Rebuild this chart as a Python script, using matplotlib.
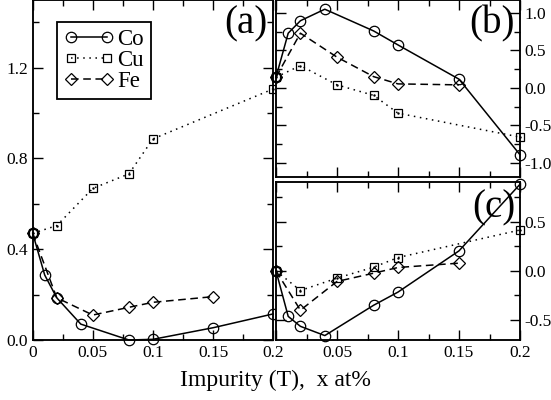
import matplotlib
matplotlib.use('Agg')
import matplotlib.pyplot as plt
from matplotlib.ticker import MultipleLocator

plt.rcParams['font.family'] = ['Liberation Serif', 'DejaVu Serif']
plt.rcParams['axes.unicode_minus'] = False

# panel (a)
a_co_x = [0, 0.01, 0.02, 0.04, 0.08, 0.1, 0.15, 0.2]
a_co_y = [0.47, 0.286, 0.186, 0.07, 0.0, 0.003, 0.054, 0.115]
a_cu_x = [0, 0.02, 0.05, 0.08, 0.1, 0.2]
a_cu_y = [0.47, 0.504, 0.668, 0.732, 0.886, 1.106]
a_fe_x = [0, 0.02, 0.05, 0.08, 0.1, 0.15]
a_fe_y = [0.47, 0.186, 0.11, 0.144, 0.166, 0.191]

# panel (b)
b_co_x = [0, 0.01, 0.02, 0.04, 0.08, 0.1, 0.15, 0.2]
b_co_y = [0.143, 0.73, 0.896, 1.05, 0.76, 0.573, 0.116, -0.893]
b_cu_x = [0, 0.02, 0.05, 0.08, 0.1, 0.2]
b_cu_y = [0.143, 0.297, 0.04, -0.10, -0.338, -0.657]
b_fe_x = [0, 0.02, 0.05, 0.08, 0.1, 0.15]
b_fe_y = [0.143, 0.73, 0.41, 0.15, 0.053, 0.04]

# panel (c)
c_co_x = [0, 0.01, 0.02, 0.04, 0.08, 0.1, 0.15, 0.2]
c_co_y = [0.0, -0.463, -0.564, -0.658, -0.35, -0.216, 0.203, 0.88]
c_cu_x = [0, 0.02, 0.05, 0.08, 0.1, 0.2]
c_cu_y = [0.0, -0.2, -0.074, 0.037, 0.135, 0.415]
c_fe_x = [0, 0.02, 0.05, 0.08, 0.1, 0.15]
c_fe_y = [0.0, -0.40, -0.108, -0.024, 0.034, 0.078]

x_labels = ['0', '0.05', '0.1', '0.15', '0.2']

fig = plt.figure(figsize=(5.51, 4.0), dpi=100)
ax_a = fig.add_axes([32.7 / 551, 1 - 340 / 400, 240.5 / 551, 340 / 400])
ax_b = fig.add_axes([276 / 551, 1 - 177 / 400, 244 / 551, 177 / 400])
ax_c = fig.add_axes([276 / 551, 1 - 340 / 400, 244 / 551, 158.5 / 400])


def draw(ax, cox, coy, cux, cuy, fex, fey):
    ax.plot(cox, coy, color='black', lw=1.1, ls='-', marker='o', ms=7.5,
            mfc='none', mec='black', mew=0.9, label='Co', clip_on=False)
    ax.plot(cux, cuy, color='black', lw=1.1, ls=(0, (1, 3)), marker='s',
            ms=6, mfc='none', mec='black', mew=0.9, label='Cu', clip_on=False)
    ax.plot(cux, cuy, ls='none', marker='.', ms=1.5, color='black',
            clip_on=False)
    ax.plot(fex, fey, color='black', lw=1.1, ls=(0, (5, 3)), marker='D',
            ms=6, mfc='none', mec='black', mew=0.9, label='Fe',
            clip_on=False)
    for s in ax.spines.values():
        s.set_linewidth(1.35)
    ax.tick_params(which='both', direction='in', top=True, right=True,
                   left=True, bottom=True, labelsize=12.5, width=1.0)
    ax.tick_params(which='major', length=7)
    ax.tick_params(which='minor', length=4)
    ax.set_xlim(0, 0.2)
    ax.xaxis.set_major_locator(MultipleLocator(0.05))
    ax.xaxis.set_minor_locator(MultipleLocator(0.025))


draw(ax_a, a_co_x, a_co_y, a_cu_x, a_cu_y, a_fe_x, a_fe_y)
draw(ax_b, b_co_x, b_co_y, b_cu_x, b_cu_y, b_fe_x, b_fe_y)
draw(ax_c, c_co_x, c_co_y, c_cu_x, c_cu_y, c_fe_x, c_fe_y)

# (a)
ax_a.set_ylim(0, 1.498)
ax_a.set_yticks([0, 0.4, 0.8, 1.2])
ax_a.set_yticklabels(['0.0', '0.4', '0.8', '1.2'])
ax_a.yaxis.set_minor_locator(MultipleLocator(0.2))
ax_a.set_xticks([0, 0.05, 0.1, 0.15, 0.2])
ax_a.set_xticklabels(x_labels)
ax_a.text(0.975, 0.985, '(a)', transform=ax_a.transAxes, ha='right',
          va='top', fontsize=28)
leg = ax_a.legend(loc='upper left', bbox_to_anchor=(0.1, 0.935), numpoints=2,
                  handlelength=2.2, handletextpad=0.15, labelspacing=0.0,
                  borderpad=0.3, borderaxespad=0.0, fontsize=16.5,
                  frameon=True, fancybox=False, edgecolor='black',
                  framealpha=1)
leg.get_frame().set_linewidth(1.3)

# (b)
ax_b.set_ylim(-1.19, 1.173)
ax_b.set_yticks([-1.0, -0.5, 0.0, 0.5, 1.0])
ax_b.set_yticklabels(['-1.0', '-0.5', '0.0', '0.5', '1.0'])
ax_b.yaxis.set_minor_locator(MultipleLocator(0.25))
ax_b.yaxis.tick_right()
ax_b.tick_params(which='both', left=True, right=True, labelleft=False,
                 labelright=True, labelbottom=False)
ax_b.text(0.98, 0.97, '(b)', transform=ax_b.transAxes, ha='right',
          va='top', fontsize=28)

# (c)
ax_c.set_ylim(-0.703, 0.908)
ax_c.set_yticks([-0.5, 0.0, 0.5])
ax_c.set_yticklabels(['-0.5', '0.0', '0.5'])
ax_c.yaxis.set_minor_locator(MultipleLocator(0.25))
ax_c.yaxis.tick_right()
ax_c.tick_params(which='both', left=True, right=True, labelleft=False,
                 labelright=True)
ax_c.set_xticks([0, 0.05, 0.1, 0.15, 0.2])
ax_c.set_xticklabels([''] + x_labels[1:])
ax_c.text(0.98, 0.95, '(c)', transform=ax_c.transAxes, ha='right',
          va='top', fontsize=28)

fig.text(275.5 / 551, 1 - 380 / 400, 'Impurity (T),  x at%', ha='center',
         va='center', fontsize=17)

fig.savefig('out.png', dpi=100)
